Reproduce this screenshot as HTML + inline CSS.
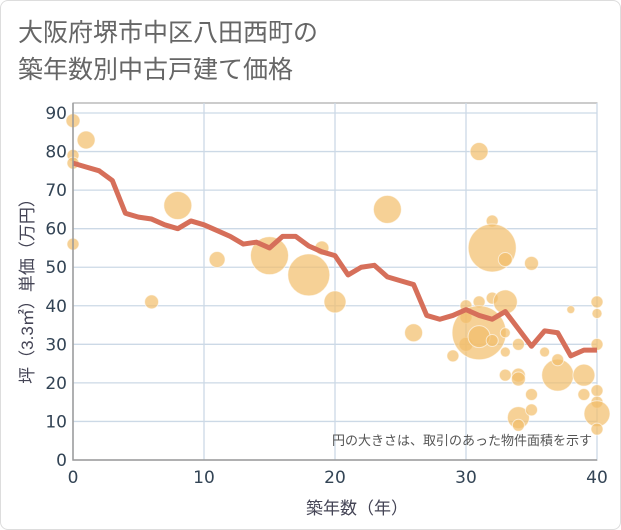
<!DOCTYPE html>
<html><head><meta charset="utf-8"><style>
html,body{margin:0;padding:0;background:#fff;}
body{width:621px;height:530px;overflow:hidden;font-family:"Liberation Sans","Noto Sans CJK JP",sans-serif;}
#card{position:absolute;left:0;top:0;width:619px;height:528px;border:1px solid #ddd;border-radius:8px;}
</style></head><body>
<div id="card"></div>
<svg id="chart" width="621" height="530" style="position:absolute;left:0;top:0">
<text x="18" y="41" font-size="25" fill="#666">大阪府堺市中区八田西町の</text>
<text x="18" y="78" font-size="25" fill="#666">築年数別中古戸建て価格</text>
<g id="grid"></g><g id="bubbles"></g><g id="line"></g><g id="axes"></g>
<text x="592" y="445" font-size="13" fill="#555" text-anchor="end">円の大きさは、取引のあった物件面積を示す</text>
<text x="357" y="514" font-size="17" fill="#445" text-anchor="middle">築年数（年）</text>
<text transform="translate(33,287) rotate(-90)" font-size="17" fill="#445" text-anchor="middle">坪（3.3㎡）単価（万円）</text>
</svg>
<script>
const xTicks=[0,10,20,30,40];
const yTicks=[0,10,20,30,40,50,60,70,80,90];
const lineX=[0,1,2,3,4,5,6,7,8,9,10,11,12,13,14,15,16,17,18,19,20,21,22,23,24,25,26,27,28,29,30,31,32,33,34,35,36,37,38,39,40];
const lineY=[77,76,75,72.5,64,63,62.5,61,60,62,61,59.5,58,56,56.5,55,58,58,55.5,54,53,48,50,50.5,47.5,46.5,45.5,37.5,36.5,37.5,39,37.5,36.5,38.5,34,29.5,33.5,33,27,28.5,28.5];
const bubX=[0,0,0,0,1,6,8,11,15,18,19,20,24,26,29,30,30,30,31,31,31,31,32,32,32,32,33,33,33,33,33,34,34,34,34,34,35,35,35,36,37,37,38,39,39,40,40,40,40,40,40,40];
const bubY=[88,79,77,56,83,41,66,52,53,48,55,41,65,33,27,40,37,30,80,41,33,32,62,55,42,31,52,41,33,22,28,30,22,21,11,9,51,17,13,28,22,26,39,22,17,41,38,30,18,15,12,8];
const bubR=[7,6,6,6,9,7,14,8,19,21,7,11,14,9,6,6,6,7,9,6,27,11,6,24,6,6,7,12,5,6,5,6,7,7,11,6,7,6,6,5,16,6,4,11,6,6,5,6,6,6,13,6];
const L=73,R=597,B=460,T=113;
const sx=v=>L+(R-L)*v/40, sy=v=>B-(B-T)*v/90;
const NS="http://www.w3.org/2000/svg";
function mk(tag,attrs,parent){const e=document.createElementNS(NS,tag);for(const k in attrs)e.setAttribute(k,attrs[k]);document.getElementById(parent).appendChild(e);return e;}
const bg=mk('rect',{x:L,y:103,width:R-L,height:B-103,fill:'#fff',stroke:'#999'},'grid');


yTicks.forEach(v=>{
 const g=mk('line',{x1:L,x2:R,y1:sy(v),y2:sy(v),stroke:'#ccd9e6','stroke-width':1.3},'grid');
 
 
 const t=mk('text',{x:L-6,y:sy(v)+6,'font-size':17,fill:'#345','text-anchor':'end','font-family':'DejaVu Sans, sans-serif'},'axes');t.textContent=v;
 
 
});
xTicks.forEach(v=>{
 const g=mk('line',{x1:sx(v),x2:sx(v),y1:103,y2:B,stroke:'#ccd9e6','stroke-width':1.3},'grid');
 
 
 const t=mk('text',{x:sx(v),y:B+23,'font-size':17,fill:'#345','text-anchor':'middle','font-family':'DejaVu Sans, sans-serif'},'axes');t.textContent=v;
 
 
});
const ax=mk('path',{d:`M${L},103V${B}H${R}`,fill:'none',stroke:'#999','stroke-width':1.5},'axes');


bubX.forEach((x,i)=>{
 const c=mk('circle',{cx:sx(x),cy:sy(bubY[i]),r:bubR[i],fill:'rgba(242,190,105,0.7)',stroke:'rgba(255,255,255,0.6)','stroke-width':1},'bubbles');
 
 
});
const p=mk('polyline',{points:lineX.map((x,i)=>sx(x)+','+sy(lineY[i])).join(' '),fill:'none',stroke:'#d66f5a','stroke-width':5,'stroke-linejoin':'round'},'line');


</script>
</body></html>
